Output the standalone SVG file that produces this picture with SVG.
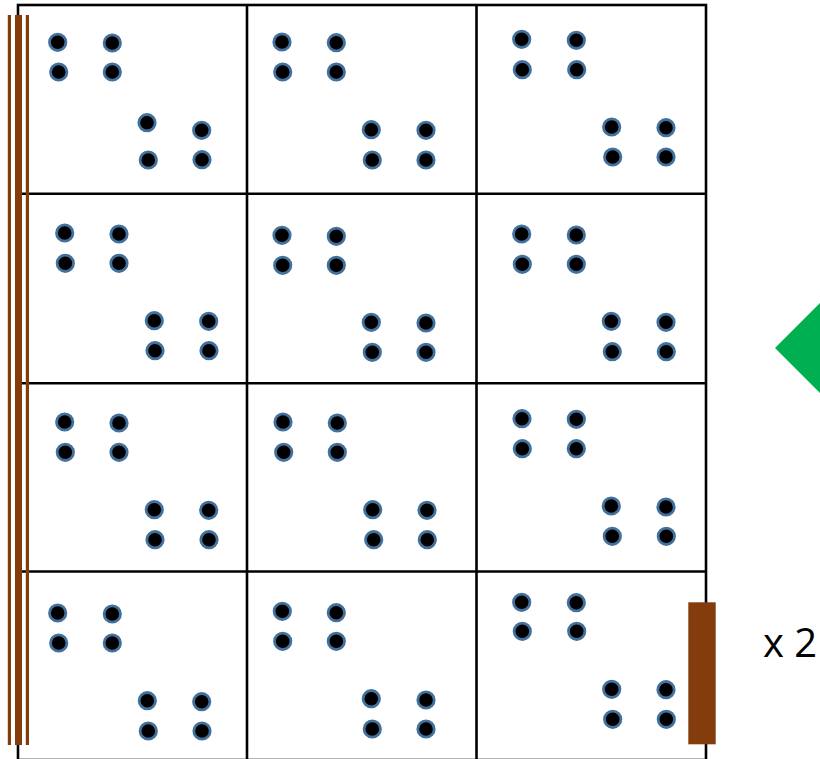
<svg xmlns="http://www.w3.org/2000/svg" width="820" height="759" viewBox="0 0 820 759">
<style>
.grid{fill:none;stroke:#000;stroke-width:2.6}
.dot{fill:#000;stroke:#41719C;stroke-width:2.8}
.wood{fill:#843C0C}
.lbl{font-family:"Open Sans","Liberation Sans",sans-serif;font-size:40px;fill:#000}
</style>
<defs>
<circle id="d" r="8.2" class="dot"/>
</defs>
<rect width="820" height="759" fill="#fff"/>
<g id="grid">
<rect class="grid" x="18" y="5" width="688" height="755"/>
<line class="grid" x1="247" y1="5" x2="247" y2="760"/>
<line class="grid" x1="476.5" y1="5" x2="476.5" y2="760"/>
<line class="grid" x1="18" y1="193.8" x2="706" y2="193.8"/>
<line class="grid" x1="18" y1="383.2" x2="706" y2="383.2"/>
<line class="grid" x1="18" y1="571.5" x2="706" y2="571.5"/>
</g>
<g id="cell-1-1">
<use href="#d" x="57.7" y="42.3"/><use href="#d" x="112.3" y="43"/><use href="#d" x="58.7" y="72"/><use href="#d" x="112.3" y="72"/>
<use href="#d" x="147" y="122.7"/><use href="#d" x="201.7" y="130.3"/><use href="#d" x="148.3" y="160"/><use href="#d" x="202" y="159.7"/>
</g>
<g id="cell-1-2">
<use href="#d" x="282" y="42"/><use href="#d" x="336.3" y="42.7"/><use href="#d" x="282.7" y="72"/><use href="#d" x="336.3" y="72"/>
<use href="#d" x="371.3" y="129.7"/><use href="#d" x="426" y="130.3"/><use href="#d" x="372.3" y="160"/><use href="#d" x="426" y="160"/>
</g>
<g id="cell-1-3">
<use href="#d" x="521.7" y="39.3"/><use href="#d" x="576.3" y="40.3"/><use href="#d" x="522.3" y="69.7"/><use href="#d" x="576.7" y="69.7"/>
<use href="#d" x="611.7" y="127"/><use href="#d" x="666" y="127.7"/><use href="#d" x="612.7" y="157"/><use href="#d" x="666" y="157"/>
</g>
<g id="cell-2-1">
<use href="#d" x="64.7" y="233"/><use href="#d" x="119" y="234"/><use href="#d" x="65.3" y="263.3"/><use href="#d" x="119" y="263.3"/>
<use href="#d" x="154.3" y="320.7"/><use href="#d" x="208.7" y="321.3"/><use href="#d" x="155" y="350.7"/><use href="#d" x="209" y="350.7"/>
</g>
<g id="cell-2-2">
<use href="#d" x="282" y="235.3"/><use href="#d" x="336.3" y="236.3"/><use href="#d" x="282.7" y="265.3"/><use href="#d" x="336.3" y="265.3"/>
<use href="#d" x="371.3" y="322.3"/><use href="#d" x="426" y="323"/><use href="#d" x="372.3" y="352.3"/><use href="#d" x="426" y="352.3"/>
</g>
<g id="cell-2-3">
<use href="#d" x="521.7" y="234"/><use href="#d" x="576.3" y="235"/><use href="#d" x="522.3" y="264.3"/><use href="#d" x="576.3" y="264.3"/>
<use href="#d" x="611.3" y="321.3"/><use href="#d" x="666" y="322.3"/><use href="#d" x="612.3" y="351.7"/><use href="#d" x="666.3" y="351.7"/>
</g>
<g id="cell-3-1">
<use href="#d" x="64.7" y="422"/><use href="#d" x="119" y="423"/><use href="#d" x="65.3" y="452.3"/><use href="#d" x="119" y="452.3"/>
<use href="#d" x="154.3" y="509.7"/><use href="#d" x="208.7" y="510.3"/><use href="#d" x="155" y="539.7"/><use href="#d" x="209" y="539.7"/>
</g>
<g id="cell-3-2">
<use href="#d" x="283" y="422"/><use href="#d" x="337.3" y="423"/><use href="#d" x="283.7" y="452.3"/><use href="#d" x="337.3" y="452.3"/>
<use href="#d" x="372.7" y="509.7"/><use href="#d" x="427" y="510.3"/><use href="#d" x="373.7" y="539.7"/><use href="#d" x="427.3" y="539.7"/>
</g>
<g id="cell-3-3">
<use href="#d" x="522" y="418.7"/><use href="#d" x="576.3" y="419.3"/><use href="#d" x="522.3" y="448.7"/><use href="#d" x="576.3" y="448.7"/>
<use href="#d" x="611.3" y="506"/><use href="#d" x="666" y="507"/><use href="#d" x="612.3" y="536.3"/><use href="#d" x="666.3" y="536.3"/>
</g>
<g id="cell-4-1">
<use href="#d" x="57.7" y="613"/><use href="#d" x="112.3" y="614"/><use href="#d" x="58.7" y="643"/><use href="#d" x="112.3" y="643"/>
<use href="#d" x="147.3" y="700.7"/><use href="#d" x="201.7" y="701.7"/><use href="#d" x="148.3" y="731"/><use href="#d" x="202" y="731"/>
</g>
<g id="cell-4-2">
<use href="#d" x="282.3" y="611.3"/><use href="#d" x="336.3" y="612.7"/><use href="#d" x="282.7" y="641.3"/><use href="#d" x="336.3" y="641.3"/>
<use href="#d" x="371.3" y="698.7"/><use href="#d" x="426" y="700"/><use href="#d" x="372.3" y="729"/><use href="#d" x="426" y="729"/>
</g>
<g id="cell-4-3">
<use href="#d" x="521.7" y="602.3"/><use href="#d" x="576.3" y="602.7"/><use href="#d" x="522.3" y="631.3"/><use href="#d" x="576.7" y="631.3"/>
<use href="#d" x="611.7" y="689.3"/><use href="#d" x="666" y="689.7"/><use href="#d" x="612.7" y="719.3"/><use href="#d" x="666.3" y="719.3"/>
</g>
<g id="left-boards">
<rect class="wood" x="7.8" y="15" width="3.2" height="730"/>
<rect class="wood" x="15" y="15" width="7" height="730"/>
<rect class="wood" x="25.8" y="15" width="3.2" height="730"/>
</g>
<g id="right-board">
<rect class="wood" x="688.3" y="602.3" width="27.4" height="142"/>
</g>
<g id="arrow">
<polygon points="775,348 830,293 885,348 830,403" fill="#00B050"/>
</g>
<text class="lbl" x="763" y="657">x 2</text>
</svg>
